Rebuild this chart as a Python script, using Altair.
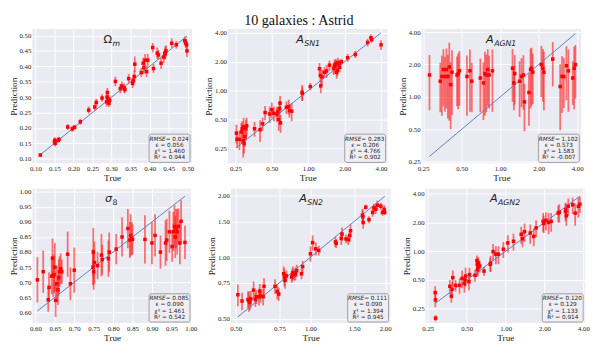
import altair as alt
import pandas as pd
import numpy as np

# ---------------- data ----------------
om_true = [0.113, 0.150, 0.151, 0.152, 0.160, 0.162, 0.185, 0.197, 0.203, 0.218, 0.240, 0.256,
           0.260, 0.275, 0.287, 0.288, 0.289, 0.291, 0.293, 0.295, 0.310, 0.323, 0.327, 0.333,
           0.335, 0.345, 0.355, 0.357, 0.360, 0.361, 0.378, 0.383, 0.385, 0.388, 0.392, 0.395,
           0.408, 0.410, 0.420, 0.423, 0.430, 0.437, 0.440, 0.441, 0.443, 0.458, 0.470, 0.492,
           0.495, 0.497, 0.498]
om_pred = [0.112, 0.155, 0.160, 0.150, 0.160, 0.163, 0.203, 0.197, 0.202, 0.220, 0.258, 0.268,
           0.283, 0.297, 0.285, 0.300, 0.315, 0.293, 0.280, 0.290, 0.351, 0.328, 0.336, 0.330,
           0.325, 0.360, 0.345, 0.355, 0.367, 0.407, 0.380, 0.410, 0.395, 0.420, 0.383, 0.420,
           0.461, 0.393, 0.443, 0.437, 0.410, 0.430, 0.440, 0.445, 0.450, 0.475, 0.470, 0.483,
           0.475, 0.470, 0.450]
om_err = [0.006, 0.010, 0.010, 0.010, 0.008, 0.008, 0.010, 0.010, 0.008, 0.010, 0.012, 0.012,
          0.012, 0.012, 0.015, 0.015, 0.015, 0.015, 0.012, 0.015, 0.015, 0.015, 0.015, 0.015,
          0.012, 0.015, 0.015, 0.018, 0.020, 0.025, 0.015, 0.018, 0.020, 0.020, 0.018, 0.020,
          0.015, 0.015, 0.018, 0.015, 0.018, 0.018, 0.018, 0.020, 0.018, 0.015, 0.012, 0.015,
          0.015, 0.015, 0.020]

sn1_true = [0.255, 0.258, 0.27, 0.28, 0.285, 0.29, 0.292, 0.295, 0.30, 0.305, 0.31, 0.36, 0.40,
            0.42, 0.44, 0.48, 0.50, 0.52, 0.55, 0.56, 0.57, 0.58, 0.585, 0.59, 0.66, 0.69, 0.70,
            0.73, 0.89, 0.895, 1.04, 1.24, 1.26, 1.27, 1.30, 1.36, 1.42, 1.50, 1.62, 1.65, 1.68,
            1.70, 1.72, 1.74, 1.76, 1.80, 1.82, 1.88, 2.12, 2.45, 3.10, 3.30, 3.35, 4.00]
sn1_pred = [0.36, 0.31, 0.31, 0.37, 0.40, 0.30, 0.42, 0.28, 0.33, 0.40, 0.43, 0.40, 0.39,
            0.45, 0.59, 0.57, 0.63, 0.58, 0.57, 0.60, 0.50, 0.65, 0.74, 0.46, 0.67, 0.68, 0.62,
            0.61, 0.96, 0.93, 1.10, 1.69, 1.43, 1.12, 1.39, 1.55, 1.60, 1.84, 1.70, 1.80, 1.87,
            1.90, 1.55, 1.62, 1.95, 1.90, 1.75, 2.00, 2.20, 2.38, 3.18, 3.55, 3.40, 3.00]
sn1_err = [0.08, 0.06, 0.07, 0.09, 0.08, 0.10, 0.10, 0.06, 0.07, 0.10, 0.09, 0.07, 0.10,
           0.07, 0.10, 0.11, 0.12, 0.10, 0.10, 0.08, 0.12, 0.12, 0.14, 0.10, 0.10, 0.12, 0.10,
           0.13, 0.18, 0.15, 0.10, 0.25, 0.20, 0.18, 0.25, 0.20, 0.25, 0.22, 0.25, 0.30, 0.25,
           0.22, 0.22, 0.20, 0.25, 0.20, 0.20, 0.15, 0.20, 0.20, 0.30, 0.30, 0.25, 0.35]

agn1_true = [0.28, 0.34, 0.35, 0.36, 0.37, 0.38, 0.39, 0.40, 0.41, 0.42, 0.46, 0.47, 0.48,
             0.55, 0.58, 0.60, 0.70, 0.74, 0.76, 0.78, 0.80, 0.82, 0.87, 1.25, 1.28, 1.30,
             1.42, 1.47, 1.52, 1.55, 1.68, 1.73, 1.76, 1.80, 2.10, 2.16, 2.20, 2.58, 2.95,
             3.05, 3.15, 3.30, 3.42, 3.70, 3.80, 3.88]
agn1_pred = [1.60, 1.40, 1.55, 1.80, 1.55, 1.80, 1.55, 1.90, 1.30, 1.70, 1.60, 1.65, 1.75,
             1.55, 1.75, 1.40, 1.50, 1.35, 1.65, 1.60, 1.80, 1.60, 1.75, 1.85, 1.35, 1.65,
             1.40, 1.55, 1.60, 0.90, 1.10, 1.80, 1.85, 1.70, 2.00, 1.85, 1.70, 2.25, 1.25,
             1.55, 1.55, 1.95, 1.75, 1.50, 1.85, 2.00]
agn1_err = [0.85, 0.68, 0.88, 0.98, 0.82, 1.02, 0.92, 1.30, 0.80, 1.02, 0.78, 0.88, 0.92,
            0.88, 1.02, 0.68, 0.78, 0.74, 0.98, 0.88, 0.98, 0.82, 1.02, 0.95, 0.60, 0.80,
            0.75, 0.75, 0.84, 0.42, 0.56, 1.02, 1.02, 0.84, 1.00, 0.95, 0.95, 1.00, 0.76,
            0.84, 0.76, 1.02, 1.02, 0.66, 1.08, 1.04]

s8_true = [0.605, 0.620, 0.633, 0.635, 0.642, 0.644, 0.646, 0.648, 0.650, 0.652, 0.655, 0.658,
           0.660, 0.662, 0.665, 0.668, 0.683, 0.690, 0.700, 0.748, 0.749, 0.750, 0.752, 0.760,
           0.770, 0.772, 0.788, 0.790, 0.808, 0.823, 0.838, 0.843, 0.845, 0.848, 0.850, 0.882,
           0.900, 0.908, 0.922, 0.935, 0.938, 0.945, 0.952, 0.955, 0.958, 0.960, 0.962, 0.965,
           0.968, 0.972, 0.975, 0.985]
s8_pred = [0.708, 0.735, 0.642, 0.683, 0.720, 0.780, 0.722, 0.725, 0.750, 0.640, 0.695, 0.675,
           0.715, 0.735, 0.745, 0.735, 0.793, 0.695, 0.740, 0.750, 0.800, 0.735, 0.765, 0.755,
           0.790, 0.775, 0.778, 0.800, 0.810, 0.850, 0.878, 0.840, 0.855, 0.845, 0.842, 0.842,
           0.830, 0.855, 0.800, 0.830, 0.840, 0.867, 0.818, 0.868, 0.885, 0.850, 0.878, 0.867,
           0.885, 0.830, 0.902, 0.832]
s8_err = [0.075, 0.070, 0.040, 0.050, 0.060, 0.065, 0.070, 0.060, 0.080, 0.055, 0.060, 0.050,
          0.060, 0.050, 0.050, 0.040, 0.075, 0.055, 0.075, 0.060, 0.080, 0.060, 0.070, 0.045,
          0.070, 0.050, 0.060, 0.065, 0.050, 0.065, 0.065, 0.060, 0.070, 0.055, 0.050, 0.080,
          0.070, 0.070, 0.055, 0.075, 0.070, 0.070, 0.050, 0.065, 0.070, 0.070, 0.065, 0.075,
          0.060, 0.070, 0.070, 0.055]

sn2_true = [0.51, 0.53, 0.56, 0.565, 0.57, 0.575, 0.59, 0.60, 0.605, 0.62, 0.625, 0.63, 0.645,
            0.65, 0.72, 0.735, 0.745, 0.78, 0.785, 0.79, 0.80, 0.84, 0.845, 0.85, 0.86, 0.87,
            0.88, 0.92, 0.93, 1.00, 1.02, 1.05, 1.08, 1.26, 1.27, 1.33, 1.34, 1.39, 1.42, 1.44,
            1.45, 1.62, 1.625, 1.63, 1.67, 1.72, 1.78, 1.80, 1.83, 1.86, 1.92, 1.95, 1.98, 1.99]
sn2_pred = [0.655, 0.61, 0.62, 0.61, 0.60, 0.625, 0.69, 0.62, 0.64, 0.64, 0.68, 0.65, 0.64,
            0.72, 0.72, 0.68, 0.66, 0.83, 0.80, 0.77, 0.81, 0.80, 0.82, 0.84, 0.82, 0.83,
            0.86, 0.83, 0.90, 1.04, 1.18, 1.10, 1.08, 1.19, 1.17, 1.24, 1.30, 1.23, 1.22, 1.28,
            1.35, 1.61, 1.58, 1.48, 1.76, 1.53, 1.66, 1.75, 1.72, 1.80, 1.78, 1.66, 1.72, 1.66]
sn2_err = [0.08, 0.06, 0.06, 0.07, 0.05, 0.06, 0.07, 0.05, 0.05, 0.06, 0.06, 0.05, 0.06,
           0.07, 0.06, 0.06, 0.05, 0.07, 0.08, 0.07, 0.05, 0.05, 0.06, 0.06, 0.05, 0.06,
           0.06, 0.05, 0.06, 0.09, 0.10, 0.08, 0.06, 0.07, 0.06, 0.09, 0.10, 0.06, 0.07, 0.09,
           0.10, 0.12, 0.12, 0.10, 0.05, 0.06, 0.08, 0.08, 0.09, 0.10, 0.07, 0.06, 0.08, 0.05]

agn2_true = [0.285, 0.286, 0.287, 0.37, 0.38, 0.385, 0.39, 0.41, 0.44, 0.46, 0.48, 0.485, 0.49,
             0.52, 0.525, 0.58, 0.60, 0.603, 0.605, 0.61, 0.615, 0.63, 0.68, 0.76, 0.765, 0.80,
             0.84, 0.88, 0.96, 1.04, 1.15, 1.32, 1.35, 1.40, 1.55, 1.65, 1.72, 1.95, 1.97, 2.05,
             2.15, 2.25, 2.55, 2.60, 2.90, 2.92, 2.95, 3.05, 3.30, 3.45, 3.65, 3.75]
agn2_pred = [0.37, 0.31, 0.20, 0.43, 0.34, 0.40, 0.53, 0.44, 0.44, 0.52, 0.46, 0.50, 0.55,
             0.48, 0.57, 0.56, 0.80, 0.73, 0.64, 0.68, 0.75, 0.70, 0.62, 0.73, 0.75, 0.99,
             0.93, 0.93, 1.05, 1.22, 1.27, 1.50, 1.35, 1.60, 1.55, 1.43, 1.75, 2.05, 1.95, 2.10,
             2.00, 2.05, 2.50, 2.55, 2.60, 2.70, 2.35, 2.95, 3.05, 2.50, 2.95, 3.10]
agn2_err = [0.06, 0.05, 0.015, 0.07, 0.05, 0.08, 0.10, 0.06, 0.08, 0.11, 0.09, 0.07, 0.12,
            0.09, 0.10, 0.08, 0.10, 0.10, 0.10, 0.12, 0.12, 0.10, 0.07, 0.12, 0.14, 0.20,
            0.20, 0.20, 0.20, 0.25, 0.25, 0.30, 0.25, 0.35, 0.35, 0.30, 0.35, 0.45, 0.40, 0.45,
            0.50, 0.45, 0.50, 0.55, 0.55, 0.50, 0.50, 0.60, 0.60, 0.65, 0.70, 0.60]

lin_ticks = [0.10, 0.15, 0.20, 0.25, 0.30, 0.35, 0.40, 0.45, 0.50]
s8_ticks = [0.60, 0.65, 0.70, 0.75, 0.80, 0.85, 0.90, 0.95, 1.00]
log_ticks = [0.25, 0.50, 1.00, 2.00, 4.00]
sn2_ticks = [0.50, 0.75, 1.00, 1.50, 2.00]

stats_om = ["0.024", "0.056", "1.460", "0.944"]
stats_sn1 = ["0.283", "0.206", "4.766", "0.902"]
stats_agn1 = ["1.102", "0.573", "1.583", "-0.007"]
stats_s8 = ["0.085", "0.090", "1.461", "0.542"]
stats_sn2 = ["0.111", "0.090", "1.394", "0.945"]
stats_agn2 = ["0.120", "0.129", "1.133", "0.914"]

W = 164
H = 138
SERIF = "Liberation Serif"
SANS = "DejaVu Sans"


def panel(tr, pr, er, xdom, ydom, xticks, yticks, log, main, sub, xs, stats,
          main_italic=True, sub_italic=True):
    tr = np.array(tr, dtype=float)
    pr = np.array(pr, dtype=float)
    er = np.array(er, dtype=float)
    df = pd.DataFrame({"t": tr, "p": pr, "lo": pr - er, "hi": pr + er})
    stype = "log" if log else "linear"
    xs_ = alt.Scale(type=stype, domain=xdom, nice=False, zero=False)
    ys_ = alt.Scale(type=stype, domain=ydom, nice=False, zero=False)
    xax = alt.Axis(values=xticks, format=".2f", title="True")
    yax = alt.Axis(values=yticks, format=".2f", title="Prediction")

    bars = alt.Chart(df).mark_rule(color="#ff1a1a", opacity=0.6, strokeWidth=1.8, clip=True).encode(
        x=alt.X("t:Q", scale=xs_, axis=xax),
        y=alt.Y("lo:Q", scale=ys_, axis=yax),
        y2="hi:Q",
    )
    ldf = pd.DataFrame({"t": [tr.min(), tr.max()], "p": [tr.min(), tr.max()]})
    line = alt.Chart(ldf).mark_line(color="#5b7fc0", strokeWidth=1).encode(
        x=alt.X("t:Q", scale=xs_, axis=xax),
        y=alt.Y("p:Q", scale=ys_, axis=yax),
    )
    pts = alt.Chart(df).mark_square(size=13, color="#ff0000", opacity=1).encode(
        x=alt.X("t:Q", scale=xs_, axis=xax),
        y=alt.Y("p:Q", scale=ys_, axis=yax),
    )

    one = pd.DataFrame({"a": [0]})
    t_main = alt.Chart(one).mark_text(
        font=SANS, fontSize=11.5, align="right", baseline="alphabetic",
        fontStyle="italic" if main_italic else "normal", color="#222").encode(
        x=alt.value(xs), y=alt.value(14), text=alt.value(main))
    t_sub = alt.Chart(one).mark_text(
        font=SANS, fontSize=8, align="left", baseline="alphabetic",
        fontStyle="italic" if sub_italic else "normal", color="#222").encode(
        x=alt.value(xs + 0.5), y=alt.value(17), text=alt.value(sub))

    box = alt.Chart(one).mark_rect(fill="#eeeef4", stroke="#8a8a8a", strokeWidth=0.8,
                                   cornerRadius=2).encode(
        x=alt.value(W - 44), x2=alt.value(W - 2), y=alt.value(H - 30), y2=alt.value(H - 1))
    cx = W - 23
    fs = 5.9
    l1a = alt.Chart(one).mark_text(font=SANS, fontSize=fs, fontStyle="italic", align="right",
                                   baseline="middle", color="#222").encode(
        x=alt.value(cx - 4), y=alt.value(H - 25.5), text=alt.value("RMSE"))
    l1b = alt.Chart(one).mark_text(font=SANS, fontSize=fs, align="left",
                                   baseline="middle", color="#222").encode(
        x=alt.value(cx - 4), y=alt.value(H - 25.5), text=alt.value(" = " + stats[0]))
    l2 = alt.Chart(one).mark_text(font=SANS, fontSize=fs, align="center",
                                  baseline="middle", color="#222").encode(
        x=alt.value(cx), y=alt.value(H - 19), text=alt.value("\u03b5 = " + stats[1]))
    l3 = alt.Chart(one).mark_text(font=SANS, fontSize=fs, align="center",
                                  baseline="middle", color="#222").encode(
        x=alt.value(cx), y=alt.value(H - 12.5), text=alt.value("\u03c7\u00b2 = " + stats[2]))
    l4 = alt.Chart(one).mark_text(font=SANS, fontSize=fs, align="center",
                                  baseline="middle", color="#222").encode(
        x=alt.value(cx), y=alt.value(H - 6), text=alt.value("R\u00b2 = " + stats[3]))

    return alt.layer(bars, line, pts, t_main, t_sub, box, l1a, l1b, l2, l3, l4).properties(
        width=W, height=H)


p1 = panel(om_true, om_pred, om_err, [0.092, 0.511], [0.085, 0.521], lin_ticks, lin_ticks,
           False, "\u03a9", "m", 82, stats_om, main_italic=False)
p2 = panel(sn1_true, sn1_pred, sn1_err, [0.217, 4.53], [0.174, 4.38], log_ticks, log_ticks,
           True, "A", "SN1", 78, stats_sn1)
p3 = panel(agn1_true, agn1_pred, agn1_err, [0.243, 4.31], [0.241, 4.28], log_ticks, log_ticks,
           True, "A", "AGN1", 74, stats_agn1)
p4 = panel(s8_true, s8_pred, s8_err, [0.592, 1.003], [0.565, 1.010], s8_ticks, s8_ticks,
           False, "\u03c3", "8", 82, stats_s8, sub_italic=False)
p5 = panel(sn2_true, sn2_pred, sn2_err, [0.478, 2.10], [0.476, 2.17], sn2_ticks, sn2_ticks,
           True, "A", "SN2", 78, stats_sn2)
p6 = panel(agn2_true, agn2_pred, agn2_err, [0.24, 4.12], [0.178, 4.5], log_ticks, log_ticks,
           True, "A", "AGN2", 74, stats_agn2)

row1 = alt.hconcat(p1, p2, p3, spacing=10)
row2 = alt.hconcat(p4, p5, p6, spacing=10)

chart = alt.vconcat(row1, row2, spacing=6).properties(
    title=alt.TitleParams("10 galaxies : Astrid", font=SERIF, fontSize=14.5, fontWeight="normal",
                          anchor="middle", offset=0, color="#111"),
    padding=0,
).configure_view(
    fill="#eaeaf2", stroke=None
).configure_axis(
    grid=True, gridColor="#ffffff", gridWidth=1, gridOpacity=1,
    domain=False, ticks=False,
    labelFont=SERIF, labelFontSize=7, labelColor="#222222", labelPadding=1.5,
    titleFont=SERIF, titleFontSize=9.5, titleFontWeight="normal", titleColor="#222222",
    titlePadding=1,
)

chart.save("out.html", embed_options={"renderer": "svg", "actions": False})
